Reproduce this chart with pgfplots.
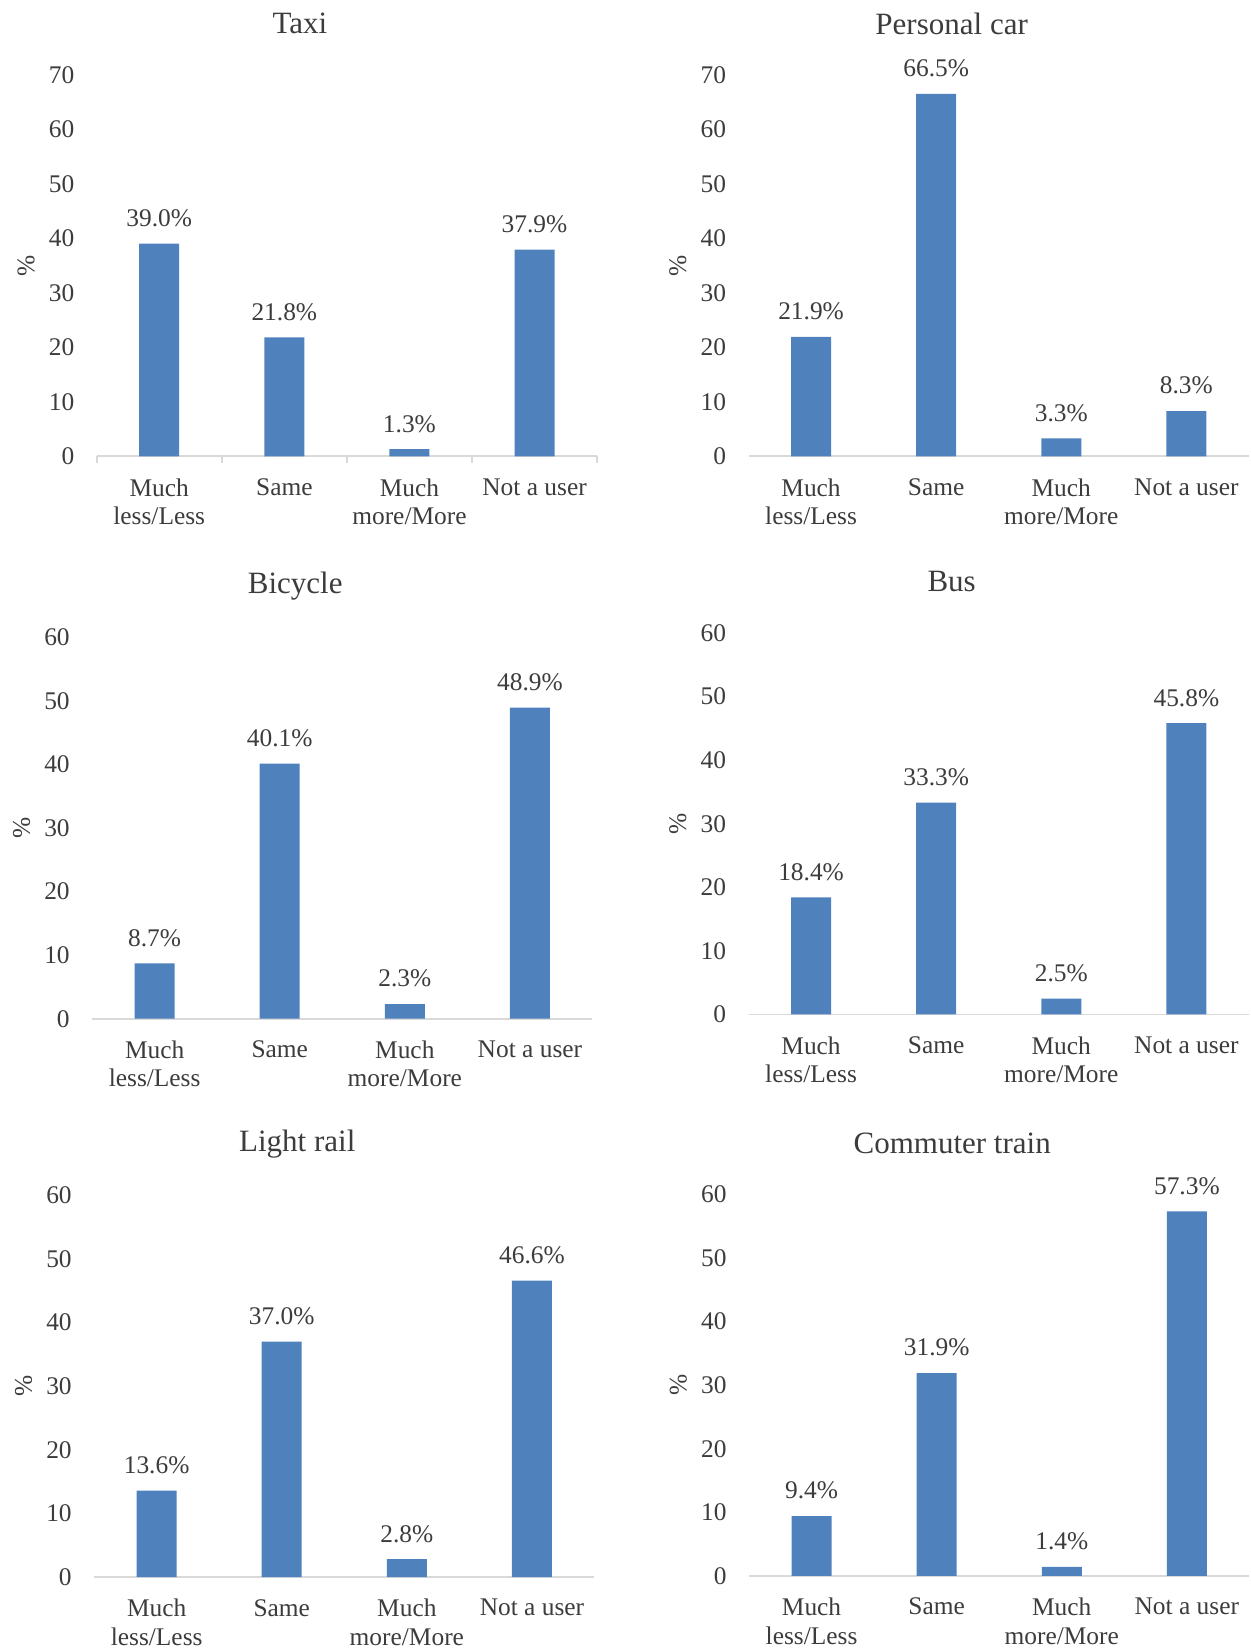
\documentclass[border=0pt]{standalone}
\usepackage{fontspec}
\setmainfont{Liberation Serif}
\usepackage{pgfplots}
\pgfplotsset{compat=1.18}

\definecolor{barblue}{HTML}{4F81BD}
\definecolor{txt}{HTML}{3C3C3C}
\definecolor{axisgray}{HTML}{D9D9D9}

\newcommand{\lblfont}{\fontsize{12.7}{14.2}\selectfont}
\newcommand{\ttlfont}{\fontsize{15.5}{18}\selectfont}

\pgfplotsset{
  /pgf/number format/assume math mode=true,
  panel/.style={
    scale only axis, width=250.2pt, height=190.8pt,
    anchor=south west,
    xmin=-0.5, xmax=3.5, ymin=0,
    axis lines*=left, separate axis lines,
    y axis line style={draw=none},
    x axis line style={draw=axisgray, line width=0.9pt},
    xtick={0,1,2,3},
    xticklabels={Much\\less/Less, Same, Much\\more/More, Not a user},
    ytick distance=10,
    major tick length=0pt,
    tick label style={font=\lblfont, text=txt},
    xticklabel style={align=center, anchor=north, inner sep=0pt, yshift=-10.9pt},
    yticklabel style={anchor=east, inner sep=0pt, xshift=-11pt},
    title style={at={(axis description cs:0.406,1.102)}, anchor=center, font=\ttlfont, text=txt},
    ylabel={\%},
    ylabel style={at={(axis description cs:-0.141,0.5)}, anchor=center, font=\lblfont, text=txt},
    ybar, bar width=20pt, bar shift=0pt,
    nodes near coords={\pgfmathprintnumber[fixed,fixed zerofill,precision=1]{\pgfplotspointmeta}\%},
    every node near coord/.append style={font=\lblfont, text=txt, inner sep=0pt, anchor=south, yshift=8.2pt},
    clip=false,
  },
  bars/.style={fill=barblue, draw=none},
  boundaryticks/.style={
    extra x ticks={-0.5,0.5,1.5,2.5,3.5},
    extra x tick labels={},
    extra x tick style={major tick length=3.2pt, tick align=outside,
      tick style={draw=axisgray, line width=0.9pt}},
  },
}

\begin{document}
\begin{tikzpicture}
\path[use as bounding box] (0,0) rectangle (625.5pt,824pt);
\clip (0,0) rectangle (625.5pt,824pt);

% Taxi
\begin{axis}[panel, boundaryticks, at={(48.35pt,595.85pt)}, ymax=70, title={Taxi}]
\addplot[bars] coordinates {(0,39.0) (1,21.8) (2,1.3) (3,37.9)};
\end{axis}

% Personal car
\begin{axis}[panel, at={(374.25pt,595.85pt)}, ymax=70, title={Personal car}]
\addplot[bars] coordinates {(0,21.9) (1,66.5) (2,3.3) (3,8.3)};
\end{axis}

% Bicycle
\begin{axis}[panel, at={(46.05pt,314.65pt)}, ymax=60, title={Bicycle}]
\addplot[bars] coordinates {(0,8.7) (1,40.1) (2,2.3) (3,48.9)};
\end{axis}

% Bus
\begin{axis}[panel, at={(374.25pt,316.75pt)}, ymax=60, title={Bus}]
\addplot[bars] coordinates {(0,18.4) (1,33.3) (2,2.5) (3,45.8)};
\end{axis}

% Light rail
\begin{axis}[panel, at={(47.05pt,35.5pt)}, ymax=60, title={Light rail}]
\addplot[bars] coordinates {(0,13.6) (1,37.0) (2,2.8) (3,46.6)};
\end{axis}

% Commuter train
\begin{axis}[panel, at={(374.5pt,36.05pt)}, ymax=60, title={Commuter train}]
\addplot[bars] coordinates {(0,9.4) (1,31.9) (2,1.4) (3,57.3)};
\end{axis}
\end{tikzpicture}
\end{document}
